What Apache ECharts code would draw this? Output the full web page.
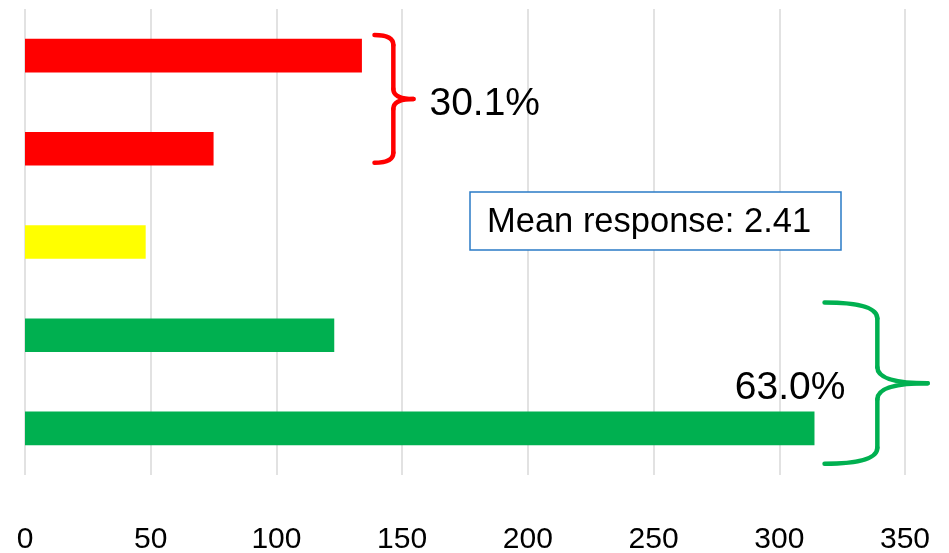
<!DOCTYPE html>
<html>
<head>
<meta charset="utf-8">
<script src="https://cdn.jsdelivr.net/npm/echarts@6/dist/echarts.min.js"></script>
<style>
  html, body { margin: 0; padding: 0; background: #ffffff; }
  #chart { width: 949px; height: 553px; }
</style>
</head>
<body>
<div id="chart"></div>
<script>
// Response counts, top row first (scores 5 .. 1)
const categories = ['5', '4', '3', '2', '1'];
const scores = [5, 4, 3, 2, 1];
const counts = [134, 75, 48, 123, 314];
const barColors = ['#FF0000', '#FF0000', '#FFFF00', '#00B050', '#00B050'];
const xTicks = [0, 50, 100, 150, 200, 250, 300, 350];

const FONT = '"Liberation Sans", Arial, Helvetica, sans-serif';

const total = counts.reduce((a, b) => a + b, 0);
const mean = counts.reduce((s, c, i) => s + c * scores[i], 0) / total;
const pct = (idx) => (idx.reduce((s, i) => s + counts[i], 0) / total * 100).toFixed(1) + '%';

// Bracket annotations grouping rows (x positions in axis units)
const braces = [
  { rows: [0, 1], tip: 139, stem: 146.5, point: 154.5, extend: [0.22, 0.15], r: 10,
    color: '#FF0000', text: pct([0, 1]), side: 'right' },
  { rows: [3, 4], tip: 318, stem: 339, point: 359, extend: [0.35, 0.38], r: 16,
    color: '#00B050', text: pct([3, 4]), side: 'left' }
];

const chart = echarts.init(document.getElementById('chart'), null, { renderer: 'canvas' });

chart.setOption({
  animation: false,
  backgroundColor: '#ffffff',
  grid: { left: 25, right: 44, top: 9, bottom: 78, containLabel: false, outerBoundsMode: 'none' },
  xAxis: {
    type: 'value',
    min: xTicks[0],
    max: xTicks[xTicks.length - 1],
    interval: xTicks[1] - xTicks[0],
    axisLine: { show: false },
    axisTick: { show: false },
    splitLine: { show: true, lineStyle: { color: '#D9D9D9', width: 1.5 } },
    axisLabel: { color: '#000000', fontSize: 30, fontFamily: FONT, margin: 50 }
  },
  yAxis: {
    type: 'category',
    data: categories,
    inverse: true,
    axisLine: { show: false },
    axisTick: { show: false },
    axisLabel: { show: false },
    splitLine: { show: false }
  },
  series: [{
    type: 'bar',
    barWidth: '36%',
    data: counts.map((v, i) => ({ value: v, itemStyle: { color: barColors[i] } }))
  }]
});

// Brackets and the summary box, placed through the axes' own scales
const px = (v, c) => chart.convertToPixel({ gridIndex: 0 }, [v, c]);
const band = px(0, 1)[1] - px(0, 0)[1];
const graphics = [];

braces.forEach((b) => {
  const top = px(b.tip, b.rows[0])[1] - band * b.extend[0];
  const bot = px(b.tip, b.rows[1])[1] + band * b.extend[1];
  const mid = (top + bot) / 2;
  const xt = px(b.tip, 0)[0], xs = px(b.stem, 0)[0], xp = px(b.point, 0)[0];
  const r = b.r;
  const stroke = { fill: 'none', stroke: b.color, lineWidth: 4.5, lineCap: 'round', lineJoin: 'round' };
  const curve = (x1, y1, cx, cy, x2, y2) => ({
    type: 'bezierCurve', shape: { x1, y1, x2, y2, cpx1: cx, cpy1: cy }, style: stroke
  });
  const line = (x1, y1, x2, y2) => ({ type: 'line', shape: { x1, y1, x2, y2 }, style: stroke });
  graphics.push({
    type: 'group',
    z: 10,
    children: [
      curve(xt, top, xs, top, xs, top + r),
      line(xs, top + r, xs, mid - r),
      curve(xs, mid - r, xs, mid, xp, mid),
      curve(xp, mid, xs, mid, xs, mid + r),
      line(xs, mid + r, xs, bot - r),
      curve(xs, bot - r, xs, bot, xt, bot)
    ]
  });
  const labelX = b.side === 'right' ? xp + 16 : xs - 32;
  graphics.push({
    type: 'text',
    x: labelX,
    y: mid + 5,
    z: 11,
    style: {
      text: b.text,
      fill: '#000000',
      font: '39px ' + FONT,
      align: b.side === 'right' ? 'left' : 'right',
      verticalAlign: 'middle'
    }
  });
});

graphics.push({
  type: 'group',
  x: 470,
  y: 192,
  z: 12,
  children: [
    {
      type: 'rect',
      shape: { x: 0, y: 0, width: 371, height: 58 },
      style: { fill: '#ffffff', stroke: '#2A7BC6', lineWidth: 1.5 }
    },
    {
      type: 'text',
      x: 17,
      y: 30,
      style: {
        text: 'Mean response: ' + mean.toFixed(2),
        fill: '#000000',
        font: '34.5px ' + FONT,
        align: 'left',
        verticalAlign: 'middle'
      }
    }
  ]
});

chart.setOption({ graphic: graphics });
</script>
</body>
</html>
